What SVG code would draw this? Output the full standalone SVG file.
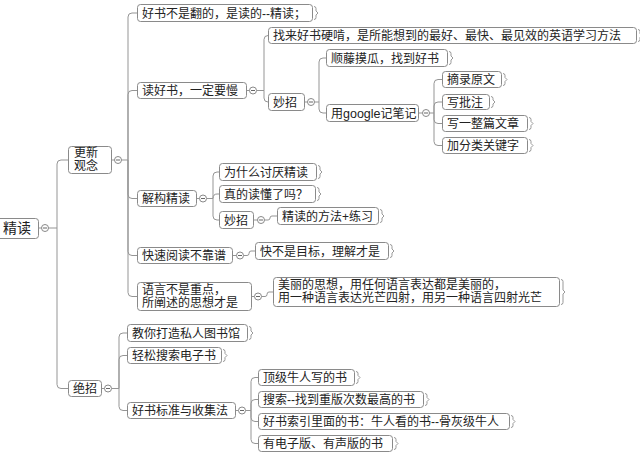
<svg xmlns="http://www.w3.org/2000/svg" width="640" height="456" viewBox="0 0 640 456">
<style>
.b{fill:#fff;stroke:#8a8a8a;stroke-width:1}
.t{font-family:"Liberation Sans","Noto Sans CJK SC",sans-serif;font-size:12px;fill:#222}
.c{fill:none;stroke:#959595;stroke-width:1}
.k{fill:#fff;stroke:#888;stroke-width:1}
.m{stroke:#666;stroke-width:1}
.tk{fill:none;stroke:#999;stroke-width:1}
</style>
<defs>
<g id="btn"><circle class="k" r="3.5"/><line class="m" x1="-2" y1="0" x2="2" y2="0"/></g>
</defs>
<rect width="640" height="456" fill="#fff"/>
<g id="connectors">
<path class="c" d="M39,228H41.5M48.5,228H57M57,228V164Q57,160 61,160H68M57,228V384.5Q57,388.5 61,388.5H68"/>
<path class="c" d="M112,160H114.5M121.5,160H128M128,160V17Q128,13 132,13H137M128,160V94.5Q128,90.5 132,90.5H137M128,160V194.5Q128,198.5 132,198.5H137M128,160V251.5Q128,255.5 132,255.5H137M128,160V292.5Q128,296.5 132,296.5H137"/>
<path class="c" d="M247,90.5H249.5M256.5,90.5H264M264,90.5V39.5Q264,35.5 268,35.5M264,90.5V98Q264,102 268,102"/>
<path class="c" d="M305,102H307.5M314.5,102H319M319,102V62Q319,58 323,58H326M319,102V109Q319,113 323,113H326"/>
<path class="c" d="M419,113H422.5M429.5,113H434M434,113V83.5Q434,79.5 438,79.5H442M434,113V106Q434,102 438,102H442M434,113V119.5Q434,123.5 438,123.5H442M434,113V141.5Q434,145.5 438,145.5H442"/>
<path class="c" d="M197,198.5H199.5M206.5,198.5H213M213,198.5V176Q213,172 217,172H219M213,198.5Q213,194 217,194H219M213,198.5V216Q213,220 217,220H219"/>
<path class="c" d="M254,220H257.5M264.5,220H268Q270,220 270,218Q270,216 272,216H277"/>
<path class="c" d="M233,255.5H236.5M243.5,255.5H247Q249,255.5 249,253.5Q249,251 251,251H255"/>
<path class="c" d="M252,296.5H254.5M261.5,296.5H265Q267,296.5 267,294.5Q267,292 269,292H273"/>
<path class="c" d="M102,388.5H104.5M111.5,388.5H119M119,388.5V337Q119,333 123,333H127M119,388.5V359.5Q119,355.5 123,355.5H127M119,388.5V406.5Q119,410.5 123,410.5H127"/>
<path class="c" d="M236,410.5H238.5M245.5,410.5H251M251,410.5V381.5Q251,377.5 255,377.5H258M251,410.5V403.5Q251,399.5 255,399.5H258M251,410.5V417.5Q251,421.5 255,421.5H258M251,410.5V439.5Q251,443.5 255,443.5H258"/>
</g>
<g id="n-root"><rect class="b" x="-4.5" y="218.5" width="43" height="20" rx="3"/><text class="t" x="3" y="233" style="font-size:14px">精读</text><use href="#btn" x="45" y="228"/></g>
<g id="n-gxgn"><rect class="b" x="68.5" y="146.5" width="43" height="27" rx="3"/><text class="t" x="74" y="157">更新<tspan x="74" dy="13">观念</tspan></text><use href="#btn" x="118" y="160"/></g>
<g id="n-c1"><rect class="b" x="137.5" y="4.5" width="175" height="17" rx="3"/><text class="t" x="142" y="17.5">好书不是翻的，是读的--精读；</text><path class="tk" d="M314,6.5Q316,6.5 316,8.5V11L318,13L316,15V17.5Q316,19.5 314,19.5"/></g>
<g id="n-c2"><rect class="b" x="137.5" y="82.5" width="109" height="16" rx="3"/><text class="t" x="142" y="95">读好书，一定要慢</text><use href="#btn" x="253" y="90.5"/></g>
<g id="n-zlhs"><rect class="b" x="268.5" y="27.5" width="368" height="16" rx="3"/><text class="t" x="273" y="40">找来好书硬啃，是所能想到的最好、最快、最见效的英语学习方法</text><path class="tk" d="M638,29.5Q640,29.5 640,31.5V33.5L642,35.5L640,37.5V39.5Q640,41.5 638,41.5"/></g>
<g id="n-mz1"><rect class="b" x="268.5" y="93.5" width="36" height="17" rx="3"/><text class="t" x="273" y="106.5">妙招</text><use href="#btn" x="311" y="102"/></g>
<g id="n-stmg"><rect class="b" x="326.5" y="49.5" width="121" height="17" rx="3"/><text class="t" x="331" y="62.5">顺藤摸瓜，找到好书</text><path class="tk" d="M449,51.5Q451,51.5 451,53.5V56L453,58L451,60V62.5Q451,64.5 449,64.5"/></g>
<g id="n-google"><rect class="b" x="326.5" y="104.5" width="92" height="17" rx="3"/><text class="t" x="331" y="117.5">用<tspan style="font-size:12.5px">google</tspan>记笔记</text><use href="#btn" x="426" y="113"/></g>
<g id="n-zlyw"><rect class="b" x="442.5" y="71.5" width="59" height="16" rx="3"/><text class="t" x="447" y="84">摘录原文</text><path class="tk" d="M503,73.5Q505,73.5 505,75.5V77.5L507,79.5L505,81.5V83.5Q505,85.5 503,85.5"/></g>
<g id="n-xpz"><rect class="b" x="442.5" y="94.5" width="47" height="15" rx="3"/><text class="t" x="447" y="106.5">写批注</text><path class="tk" d="M491,96.5Q493,96.5 493,98.5V100L495,102L493,104V105.5Q493,107.5 491,107.5"/></g>
<g id="n-xyzp"><rect class="b" x="442.5" y="115.5" width="85" height="16" rx="3"/><text class="t" x="447" y="128">写一整篇文章</text><path class="tk" d="M529,117.5Q531,117.5 531,119.5V121.5L533,123.5L531,125.5V127.5Q531,129.5 529,129.5"/></g>
<g id="n-jflg"><rect class="b" x="442.5" y="137.5" width="85" height="16" rx="3"/><text class="t" x="447" y="150">加分类关键字</text><path class="tk" d="M529,139.5Q531,139.5 531,141.5V143.5L533,145.5L531,147.5V149.5Q531,151.5 529,151.5"/></g>
<g id="n-c3"><rect class="b" x="137.5" y="190.5" width="59" height="16" rx="3"/><text class="t" x="142" y="203">解构精读</text><use href="#btn" x="203" y="198.5"/></g>
<g id="n-wsm"><rect class="b" x="219.5" y="163.5" width="97" height="17" rx="3"/><text class="t" x="224" y="176.5">为什么讨厌精读</text><path class="tk" d="M318,165.5Q320,165.5 320,167.5V170L322,172L320,174V176.5Q320,178.5 318,178.5"/></g>
<g id="n-zddd"><rect class="b" x="219.5" y="185.5" width="96" height="17" rx="3"/><text class="t" x="224" y="198.5">真的读懂了吗？</text><path class="tk" d="M317,187.5Q319,187.5 319,189.5V192L321,194L319,196V198.5Q319,200.5 317,200.5"/></g>
<g id="n-mz2"><rect class="b" x="219.5" y="211.5" width="34" height="17" rx="3"/><text class="t" x="224" y="224.5">妙招</text><use href="#btn" x="261" y="220"/></g>
<g id="n-jdff"><rect class="b" x="277.5" y="207.5" width="101" height="17" rx="3"/><text class="t" x="282" y="220.5">精读的方法+练习</text><path class="tk" d="M380,209.5Q382,209.5 382,211.5V214L384,216L382,218V220.5Q382,222.5 380,222.5"/></g>
<g id="n-c4"><rect class="b" x="137.5" y="247.5" width="95" height="16" rx="3"/><text class="t" x="142" y="260">快速阅读不靠谱</text><use href="#btn" x="240" y="255.5"/></g>
<g id="n-kbsm"><rect class="b" x="255.5" y="242.5" width="133" height="17" rx="3"/><text class="t" x="260" y="255.5">快不是目标，理解才是</text><path class="tk" d="M390,244.5Q392,244.5 392,246.5V249L394,251L392,253V255.5Q392,257.5 390,257.5"/></g>
<g id="n-c5"><rect class="b" x="137.5" y="282.5" width="114" height="28" rx="3"/><text class="t" x="142" y="294">语言不是重点，<tspan x="142" dy="13">所阐述的思想才是</tspan></text><use href="#btn" x="258" y="296.5"/></g>
<g id="n-mldsx"><rect class="b" x="273.5" y="277.5" width="286" height="29" rx="3"/><text class="t" x="278" y="289">美丽的思想，用任何语言表达都是美丽的，<tspan x="278" dy="13">用一种语言表达光芒四射，用另一种语言四射光芒</tspan></text><path class="tk" d="M561,279.5Q563,279.5 563,281.5V290L565,292L563,294V302.5Q563,304.5 561,304.5"/></g>
<g id="n-jz"><rect class="b" x="68.5" y="380.5" width="33" height="16" rx="3"/><text class="t" x="73" y="393">绝招</text><use href="#btn" x="108" y="388.5"/></g>
<g id="n-jndz"><rect class="b" x="127.5" y="324.5" width="120" height="17" rx="3"/><text class="t" x="132" y="337.5">教你打造私人图书馆</text><path class="tk" d="M249,326.5Q251,326.5 251,328.5V331L253,333L251,335V337.5Q251,339.5 249,339.5"/></g>
<g id="n-qsss"><rect class="b" x="127.5" y="347.5" width="94" height="16" rx="3"/><text class="t" x="132" y="360">轻松搜索电子书</text><path class="tk" d="M223,349.5Q225,349.5 225,351.5V353.5L227,355.5L225,357.5V359.5Q225,361.5 223,361.5"/></g>
<g id="n-hsbz"><rect class="b" x="127.5" y="402.5" width="108" height="16" rx="3"/><text class="t" x="132" y="415">好书标准与收集法</text><use href="#btn" x="242" y="410.5"/></g>
<g id="n-djnr"><rect class="b" x="258.5" y="369.5" width="96" height="16" rx="3"/><text class="t" x="263" y="382">顶级牛人写的书</text><path class="tk" d="M356,371.5Q358,371.5 358,373.5V375.5L360,377.5L358,379.5V381.5Q358,383.5 356,383.5"/></g>
<g id="n-ss"><rect class="b" x="258.5" y="391.5" width="165" height="16" rx="3"/><text class="t" x="263" y="404">搜索--找到重版次数最高的书</text><path class="tk" d="M425,393.5Q427,393.5 427,395.5V397.5L429,399.5L427,401.5V403.5Q427,405.5 425,405.5"/></g>
<g id="n-hssy"><rect class="b" x="258.5" y="413.5" width="251" height="16" rx="3"/><text class="t" x="263" y="426">好书索引里面的书：牛人看的书--骨灰级牛人</text><path class="tk" d="M511,415.5Q513,415.5 513,417.5V419.5L515,421.5L513,423.5V425.5Q513,427.5 511,427.5"/></g>
<g id="n-ydzb"><rect class="b" x="258.5" y="435.5" width="134" height="16" rx="3"/><text class="t" x="263" y="448">有电子版、有声版的书</text><path class="tk" d="M394,437.5Q396,437.5 396,439.5V441.5L398,443.5L396,445.5V447.5Q396,449.5 394,449.5"/></g>
</svg>
